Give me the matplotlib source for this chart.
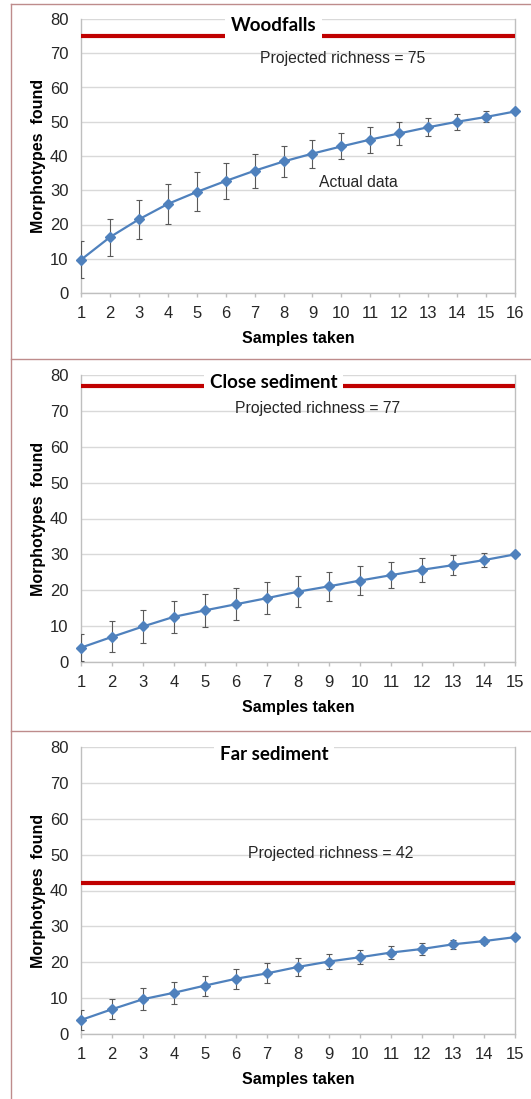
import matplotlib
matplotlib.use("Agg")
from matplotlib import pyplot as plt
from matplotlib.lines import Line2D

plt.rcParams['font.family'] = ['Liberation Sans', 'DejaVu Sans']

# --- data ---
wood_y = [9.7, 16.3, 21.5, 26.0, 29.5, 32.7, 35.7, 38.4, 40.7, 42.8, 44.8, 46.6, 48.4, 50.0, 51.4, 53.0]
wood_err = [5.4, 5.4, 5.6, 5.9, 5.7, 5.4, 4.9, 4.4, 4.1, 3.8, 3.8, 3.3, 2.7, 2.3, 1.6, 0]
close_y = [4.0, 7.0, 9.9, 12.6, 14.4, 16.1, 17.8, 19.6, 21.1, 22.7, 24.2, 25.7, 27.0, 28.4, 30.0]
close_err = [3.7, 4.3, 4.5, 4.5, 4.6, 4.4, 4.5, 4.3, 4.1, 4.0, 3.7, 3.3, 2.8, 1.9, 0]
far_y = [3.9, 6.9, 9.7, 11.5, 13.5, 15.4, 16.9, 18.7, 20.2, 21.4, 22.7, 23.7, 25.0, 25.9, 27.0]
far_err = [2.7, 2.8, 3.0, 3.1, 2.8, 2.8, 2.8, 2.5, 2.1, 2.0, 1.7, 1.6, 1.2, 0.7, 0]

titles = ["Woodfalls", "Close sediment", "Far sediment"]
projected = [75, 77, 42]

W, H = 531, 1099
fig = plt.figure(figsize=(W / 100, H / 100), dpi=100)
fig.patch.set_facecolor('white')

# axes boxes in pixels: (top, bottom)
boxes = [(19, 293), (375, 662), (747, 1034)]
left_px, right_px = 81, 515

# per panel: y data, errors, title x, projected label (x, y), actual label
panels = [
    (wood_y, wood_err, 7.66, (10.05, 68.6), (10.6, 32.4)),
    (close_y, close_err, 7.22, (8.64, 70.6), None),
    (far_y, far_err, 7.22, (9.06, 50.2), None),
]

blue = '#4f81bd'
grid_c = '#d9d9d9'
spine_c = '#bfbfbf'

for i, (yv, ev, tx, ptxt, atxt) in enumerate(panels):
    top, bot = boxes[i]
    ax = fig.add_axes([left_px / W, 1 - bot / H, (right_px - left_px) / W, (bot - top) / H])
    xs = list(range(1, len(yv) + 1))

    ax.set_xlim(1, len(yv))
    ax.set_ylim(0, 80)
    ax.set_yticks(range(0, 81, 10))
    ax.set_xticks(xs)
    ax.yaxis.grid(True, color=grid_c, linewidth=1)
    ax.set_axisbelow(True)
    for s in ['left', 'bottom', 'right']:
        ax.spines[s].set_color(spine_c)
        ax.spines[s].set_linewidth(1)
    ax.spines['top'].set_visible(False)
    ax.tick_params(axis='y', length=0, pad=9, labelsize=12, colors='#262626')
    ax.tick_params(axis='x', length=3, width=1, color=spine_c, pad=6.5, labelsize=12, labelcolor='#262626')

    ax.axhline(projected[i], color='#c00000', linewidth=3, zorder=3)

    ax.errorbar(xs, yv, yerr=ev, fmt='none', ecolor='#595959', elinewidth=0.8,
                capsize=2.5, capthick=0.8, zorder=4)
    ax.plot(xs, yv, color=blue, linewidth=1.6, marker='D', markersize=5,
            markerfacecolor=blue, markeredgecolor=blue, zorder=5, clip_on=False)

    ax.text(tx, 78, titles[i], ha='center', va='center', fontsize=13.5,
            fontweight='bold', family=['Lato', 'DejaVu Sans'], color='black', zorder=6,
            bbox=dict(boxstyle='square,pad=0.3', facecolor='white', edgecolor='none'))
    ax.text(ptxt[0], ptxt[1], "Projected richness = %d" % projected[i], ha='center',
            va='center', fontsize=11.3, color='#262626', zorder=6)
    if atxt is not None:
        ax.text(atxt[0], atxt[1], "Actual data", ha='center', va='center',
                fontsize=11.3, color='#262626', zorder=6)

    ax.set_xlabel("Samples taken", fontsize=11.5, fontweight='bold', labelpad=7)
    ax.set_ylabel("Morphotypes  found", fontsize=11.5, fontweight='bold', labelpad=3)

# outer frames around the three panels
frame_c = '#be8c8c'
def fline(x0, y0, x1, y1):
    fig.add_artist(Line2D([x0 / W, x1 / W], [1 - y0 / H, 1 - y1 / H], color=frame_c, linewidth=1))

fline(11, 4, 11, H)
for yy in [4, 359, 731]:
    fline(11, yy, W, yy)

fig.savefig("out.png", dpi=100)
